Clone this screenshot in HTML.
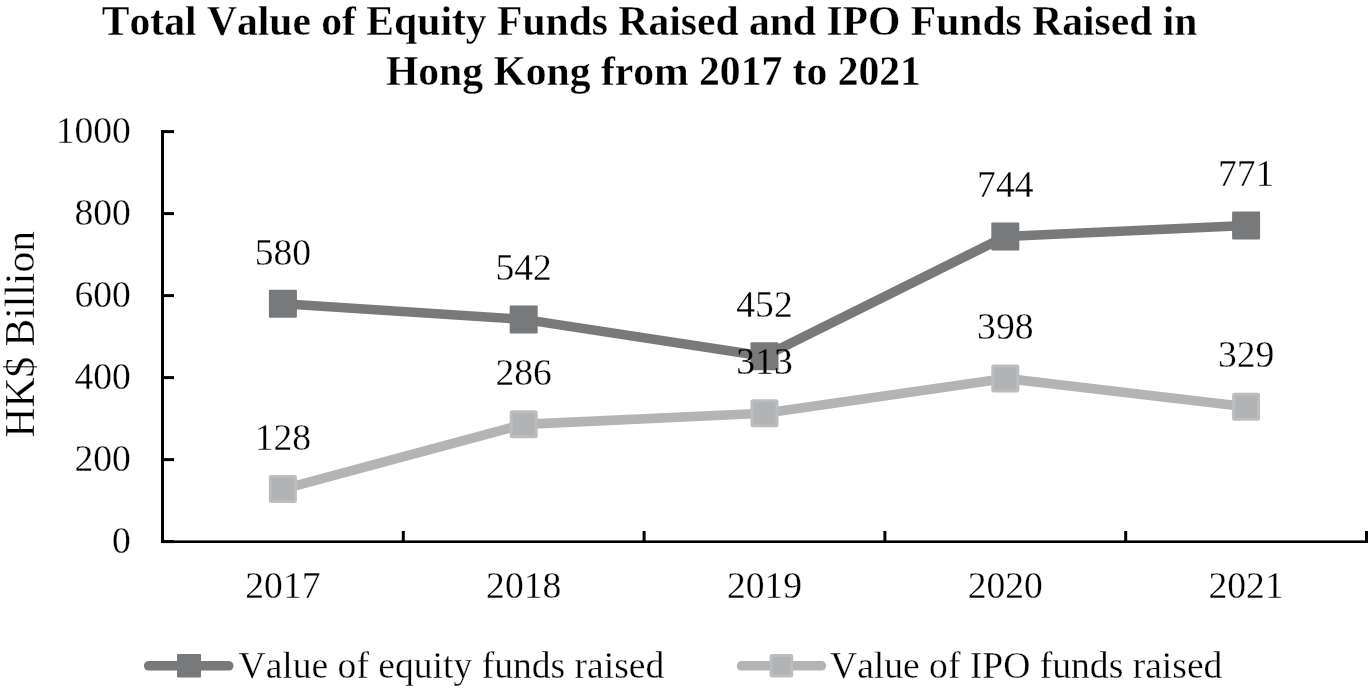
<!DOCTYPE html><html><head><meta charset="utf-8"><style>html,body{margin:0;padding:0;background:#fff;width:1368px;height:689px;overflow:hidden}svg{display:block;will-change:transform}text{font-family:"Liberation Serif",serif;stroke:#fff;stroke-width:0.3px;font-kerning:none}</style></head><body>
<svg width="1368" height="689" viewBox="0 0 1368 689">
<rect width="1368" height="689" fill="#fff"/>
<text x="649.6" y="35" text-anchor="middle" font-size="41.6" font-weight="bold" fill="#000">Total Value of Equity Funds Raised and IPO Funds Raised in</text>
<text x="653.4" y="85" text-anchor="middle" font-size="41.6" font-weight="bold" fill="#000">Hong Kong from 2017 to 2021</text>
<text transform="translate(34.3,334.3) rotate(-90)" text-anchor="middle" font-size="41.5" fill="#000">HK$ Billion</text>
<rect x="161" y="130" width="3" height="413" fill="#000"/>
<rect x="161" y="540.10" width="13" height="3" fill="#000"/>
<text x="130.8" y="552.90" text-anchor="end" font-size="37.6" fill="#000">0</text>
<rect x="161" y="458.10" width="13" height="3" fill="#000"/>
<text x="130.8" y="470.90" text-anchor="end" font-size="37.6" fill="#000">200</text>
<rect x="161" y="376.10" width="13" height="3" fill="#000"/>
<text x="130.8" y="388.90" text-anchor="end" font-size="37.6" fill="#000">400</text>
<rect x="161" y="294.10" width="13" height="3" fill="#000"/>
<text x="130.8" y="306.90" text-anchor="end" font-size="37.6" fill="#000">600</text>
<rect x="161" y="212.10" width="13" height="3" fill="#000"/>
<text x="130.8" y="224.90" text-anchor="end" font-size="37.6" fill="#000">800</text>
<rect x="161" y="130.10" width="13" height="3" fill="#000"/>
<text x="130.8" y="142.90" text-anchor="end" font-size="37.6" fill="#000">1000</text>
<rect x="161" y="540.4" width="1207" height="2.6" fill="#000"/>
<rect x="401.80" y="531" width="3" height="12" fill="#000"/>
<rect x="642.60" y="531" width="3" height="12" fill="#000"/>
<rect x="883.40" y="531" width="3" height="12" fill="#000"/>
<rect x="1124.20" y="531" width="3" height="12" fill="#000"/>
<rect x="1365.00" y="531" width="3" height="12" fill="#000"/>
<text x="282.90" y="597.5" text-anchor="middle" font-size="37.6" fill="#000">2017</text>
<text x="523.70" y="597.5" text-anchor="middle" font-size="37.6" fill="#000">2018</text>
<text x="764.50" y="597.5" text-anchor="middle" font-size="37.6" fill="#000">2019</text>
<text x="1005.30" y="597.5" text-anchor="middle" font-size="37.6" fill="#000">2020</text>
<text x="1246.10" y="597.5" text-anchor="middle" font-size="37.6" fill="#000">2021</text>
<polyline points="282.90,489.12 523.70,424.34 764.50,413.27 1005.30,378.42 1246.10,406.71" fill="none" stroke="#b3b4b6" stroke-width="9.6" stroke-linejoin="round" stroke-linecap="round"/>
<rect x="270.40" y="476.62" width="25" height="25" rx="1" fill="#b2b3b5" stroke="#bcbdbf" stroke-width="3"/>
<rect x="511.20" y="411.84" width="25" height="25" rx="1" fill="#b2b3b5" stroke="#bcbdbf" stroke-width="3"/>
<rect x="752.00" y="400.77" width="25" height="25" rx="1" fill="#b2b3b5" stroke="#bcbdbf" stroke-width="3"/>
<rect x="992.80" y="365.92" width="25" height="25" rx="1" fill="#b2b3b5" stroke="#bcbdbf" stroke-width="3"/>
<rect x="1233.60" y="394.21" width="25" height="25" rx="1" fill="#b2b3b5" stroke="#bcbdbf" stroke-width="3"/>
<polyline points="282.90,303.80 523.70,319.38 764.50,356.28 1005.30,236.56 1246.10,225.49" fill="none" stroke="#78797b" stroke-width="9.6" stroke-linejoin="round" stroke-linecap="round"/>
<rect x="268.90" y="289.80" width="28" height="28" rx="1" fill="#78797b"/>
<rect x="509.70" y="305.38" width="28" height="28" rx="1" fill="#78797b"/>
<rect x="750.50" y="342.28" width="28" height="28" rx="1" fill="#78797b"/>
<rect x="991.30" y="222.56" width="28" height="28" rx="1" fill="#78797b"/>
<rect x="1232.10" y="211.49" width="28" height="28" rx="1" fill="#78797b"/>
<text x="282.90" y="264.50" text-anchor="middle" font-size="37.6" fill="#000">580</text>
<text x="523.70" y="280.08" text-anchor="middle" font-size="37.6" fill="#000">542</text>
<text x="764.50" y="316.98" text-anchor="middle" font-size="37.6" fill="#000">452</text>
<text x="1005.30" y="197.26" text-anchor="middle" font-size="37.6" fill="#000">744</text>
<text x="1246.10" y="186.19" text-anchor="middle" font-size="37.6" fill="#000">771</text>
<text x="282.90" y="449.82" text-anchor="middle" font-size="37.6" fill="#000">128</text>
<text x="523.70" y="385.04" text-anchor="middle" font-size="37.6" fill="#000">286</text>
<mask id="m313" maskUnits="userSpaceOnUse" x="700" y="320" width="130" height="70"><rect x="700" y="320" width="130" height="70" fill="#000"/><text x="764.50" y="373.97" text-anchor="middle" font-size="37.6" fill="#fff" style="stroke:#000">313</text></mask>
<rect x="700" y="320" width="130" height="70" fill="#000" mask="url(#m313)"/>
<text x="1005.30" y="339.12" text-anchor="middle" font-size="37.6" fill="#000">398</text>
<text x="1246.10" y="367.41" text-anchor="middle" font-size="37.6" fill="#000">329</text>
<line x1="148.6" y1="665.8" x2="228.8" y2="665.8" stroke="#78797b" stroke-width="9.5" stroke-linecap="round"/>
<rect x="177" y="654" width="24" height="23.6" rx="1" fill="#78797b"/>
<text x="238.5" y="677.6" font-size="37.6" fill="#000">Value of equity funds raised</text>
<line x1="741.5" y1="665.8" x2="821.4" y2="665.8" stroke="#b3b4b6" stroke-width="9.5" stroke-linecap="round"/>
<rect x="771.1" y="655.5" width="20.6" height="20.6" rx="1" fill="#b2b3b5" stroke="#bcbdbf" stroke-width="3"/>
<text x="830" y="677.6" font-size="37.6" fill="#000">Value of IPO funds raised</text>
</svg></body></html>
